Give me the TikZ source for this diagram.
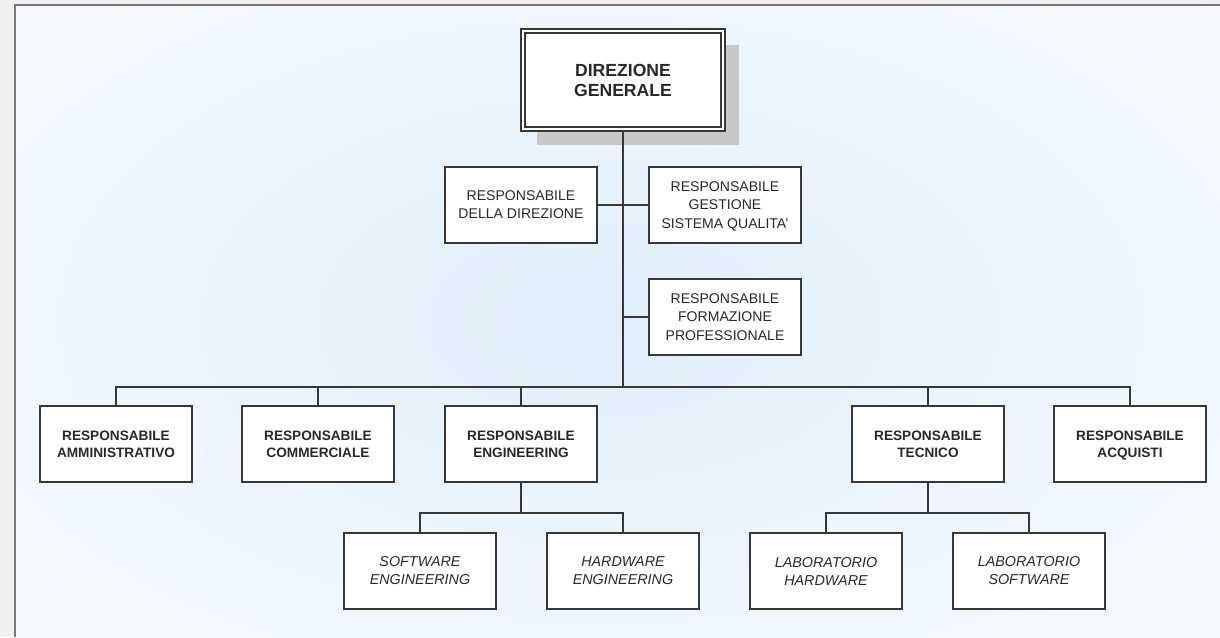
\documentclass[tikz,border=0pt]{standalone}
\usepackage{fontspec}
\setmainfont{Liberation Sans}
\usepackage{tikz}
\usetikzlibrary{positioning}
\usetikzlibrary{calc}
\pgfdeclarelayer{back}
\pgfsetlayers{back,main}
\definecolor{linegray}{RGB}{55,55,55}
\definecolor{textgray}{RGB}{40,40,40}
\definecolor{shadowgray}{RGB}{200,200,200}
\definecolor{sidegray}{RGB}{240,240,240}
\definecolor{framegray}{RGB}{120,120,120}
\definecolor{glowblue}{RGB}{224,239,251}
\tikzset{box/.style = {draw = linegray, fill = white, line width = 1.3pt,
                       minimum width = 3.8cm, minimum height = 1.9cm,
                       align = center, text = textgray, inner sep = 0}}
\tikzset{head/.style = {box, font = \bfseries\fontsize{9.7}{12.1}\selectfont}}
\tikzset{staff/.style = {box, font = \fontsize{10}{13}\selectfont}}
\tikzset{unit/.style = {box, font = \itshape\fontsize{10.2}{12.8}\selectfont}}
\tikzset{top/.style = {box, double = white, double distance = 1.1pt, line width = 1.3pt,
                       minimum width = 5cm, minimum height = 2.45cm,
                       font = \bfseries\fontsize{12.5}{14.2}\selectfont}}
\tikzset{wire/.style = {draw = linegray, line width = 1.35pt}}

\begin{document}
\begin{tikzpicture}[x=0.025cm, y=-0.025cm]
  \useasboundingbox (0, 0) rectangle (1220, 637);

  % top
  \node [top] (dg) at (623, 80) {DIREZIONE\\GENERALE};

  % staff
  \node [staff] (dir) at (521, 205) {RESPONSABILE\\DELLA DIREZIONE};
  \node [staff] (qual) at (725, 205) {RESPONSABILE\\GESTIONE\\SISTEMA \smash{Q}UALITA'};
  \node [staff] (form) at (725, 317) {RESPONSABILE\\FORMAZIONE\\PROFESSIONALE};

  % second level
  \node [head] (amm) at (116, 444) {RESPONSABILE\\AMMINISTRATIVO};
  \node [head] (comm) at (318, 444) {RESPONSABILE\\COMMERCIALE};
  \node [head] (eng) at (521, 444) {RESPONSABILE\\ENGINEERING};
  \node [head] (tec) at (928, 444) {RESPONSABILE\\TECNICO};
  \node [head] (acq) at (1130, 444) {RESPONSABILE\\AC\smash{Q}UISTI};

  % third level
  \node [unit] (swe) at (420, 571) {SOFTWARE\\ENGINEERING};
  \node [unit] (hwe) at (623, 571) {HARDWARE\\ENGINEERING};
  \node [unit] (labhw) at (826, 571) {LABORATORIO\\HARDWARE};
  \node [unit] (labsw) at (1029, 571) {LABORATORIO\\SOFTWARE};

  \coordinate (bus) at (623, 387);
  \coordinate (engbus) at (521, 513);
  \coordinate (tecbus) at (928, 513);

  % frame, background and shadow behind everything
  \begin{pgfonlayer}{back}
    \fill [sidegray] (0, 0) rectangle (1220, 637);
    \fill [white] (15, 5) rectangle (1220, 637);
    \begin{scope}
      \clip (16, 6) rectangle (1220, 637);
      \shade [inner color = glowblue, outer color = white] (600, 320) ellipse (1150 and 640);
    \end{scope}
    \draw [framegray, line width = 1.4pt] (15, 637) -- (15, 5) -- (1220, 5);
    \fill [shadowgray] ($(dg.north west) + (15, 15)$) rectangle ($(dg.south east) + (15, 15)$);
  \end{pgfonlayer}

  % connectors
  \draw [wire] (dg.south) -- (bus);
  \draw [wire] (dir.east) -- (qual.west);
  \draw [wire] (form.west) -- (form.west -| bus);
  \draw [wire] (amm.north) |- (bus) -| (acq.north);
  \foreach \n in {comm, eng, tec}
    \draw [wire] (\n.north) -- (\n.north |- bus);
  \draw [wire] (eng.south) -- (engbus);
  \draw [wire] (swe.north) |- (engbus) -| (hwe.north);
  \draw [wire] (tec.south) -- (tecbus);
  \draw [wire] (labhw.north) |- (tecbus) -| (labsw.north);
\end{tikzpicture}
\end{document}
